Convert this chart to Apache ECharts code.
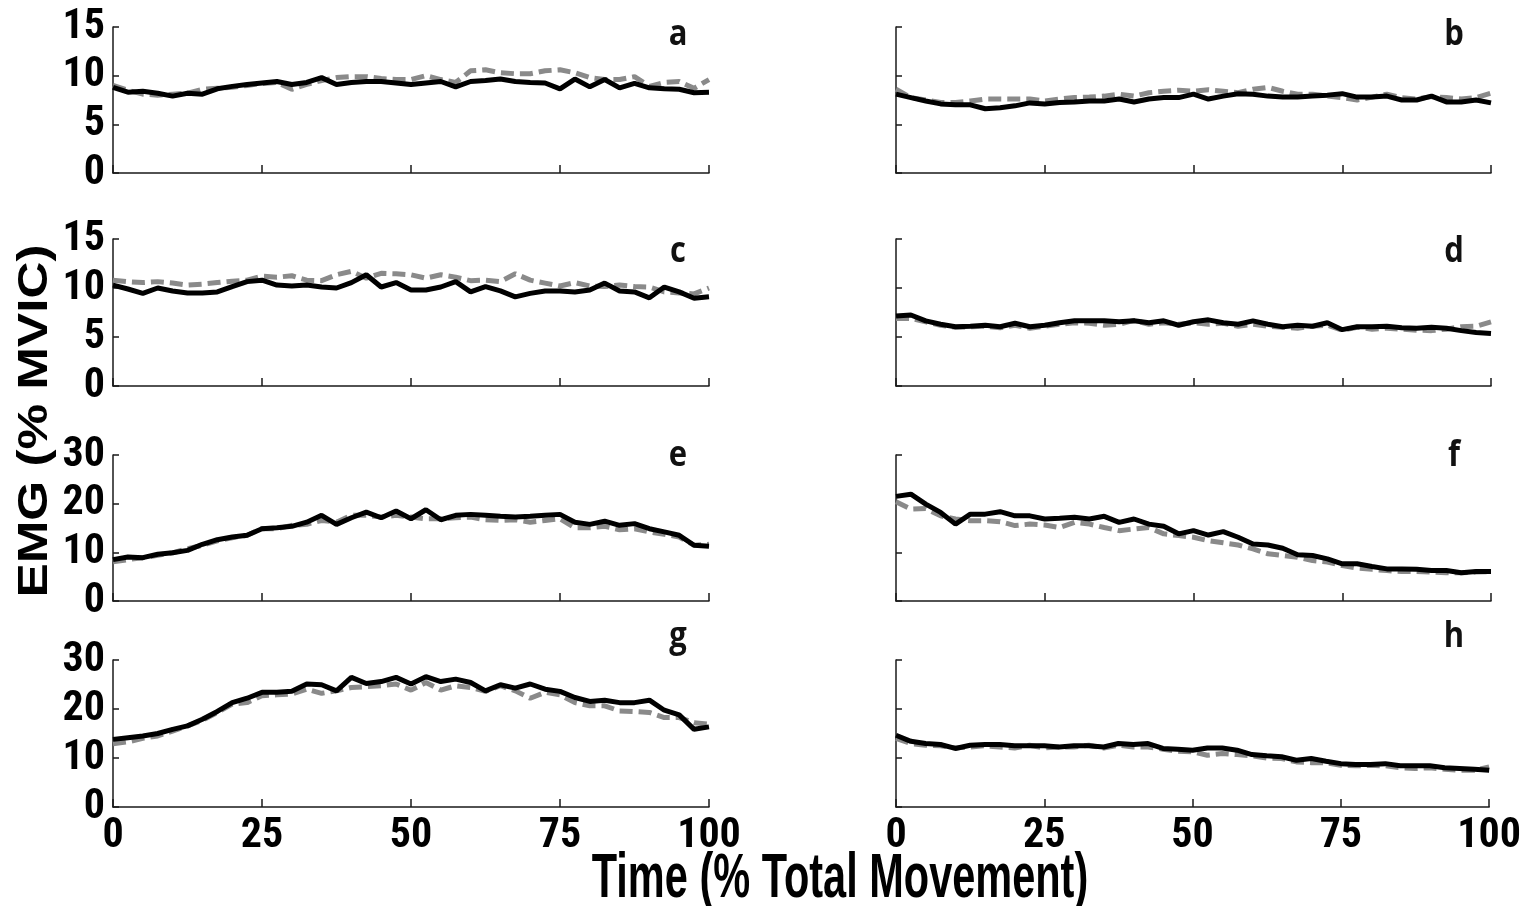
<!DOCTYPE html>
<html>
<head>
<meta charset="utf-8">
<script src="https://cdn.jsdelivr.net/npm/echarts@6/dist/echarts.min.js"></script>
<style>
html,body{margin:0;padding:0;background:#fff;}
#chart{width:1524px;height:906px;}
</style>
</head>
<body>
<div id="chart"></div>
<script>
// ---- data ----
const time = [0,2.5,5,7.5,10,12.5,15,17.5,20,22.5,25,27.5,30,32.5,35,37.5,40,42.5,45,47.5,50,52.5,55,57.5,60,62.5,65,67.5,70,72.5,75,77.5,80,82.5,85,87.5,90,92.5,95,97.5,100];
const xTicks = [0,25,50,75,100];
const yTicksLow = [0,5,10,15];
const yTicksHigh = [0,10,20,30];
const panelLetters = ['a','b','c','d','e','f','g','h'];

const aSolid  = [8.8,8.3,8.4,8.2,7.9,8.2,8.1,8.65,8.9,9.1,9.25,9.4,9.1,9.3,9.8,9.1,9.3,9.4,9.4,9.25,9.1,9.25,9.4,8.85,9.4,9.5,9.65,9.4,9.3,9.25,8.65,9.65,8.85,9.6,8.75,9.2,8.75,8.65,8.6,8.25,8.3];
const aDashed = [9.0,8.5,8.1,8.0,8.1,8.2,8.6,8.7,8.8,9.0,9.2,9.3,8.6,9.1,9.5,9.8,9.9,9.9,9.7,9.6,9.6,10.0,9.6,9.3,10.5,10.6,10.3,10.2,10.2,10.5,10.6,10.3,9.8,9.6,9.6,9.9,8.9,9.3,9.4,8.7,9.6];
const bSolid  = [8.1,7.75,7.4,7.1,7.0,7.0,6.6,6.7,6.9,7.2,7.1,7.25,7.3,7.4,7.4,7.6,7.3,7.6,7.75,7.75,8.1,7.6,7.9,8.15,8.1,7.9,7.8,7.8,7.9,8.0,8.15,7.8,7.8,7.9,7.5,7.5,7.9,7.3,7.3,7.5,7.2];
const bDashed = [8.6,7.75,7.5,7.25,7.25,7.4,7.6,7.6,7.6,7.6,7.4,7.6,7.75,7.8,7.9,8.1,7.9,8.25,8.4,8.5,8.4,8.55,8.4,8.25,8.6,8.8,8.4,8.1,8.1,7.9,7.75,7.5,7.8,8.1,7.75,7.6,7.85,7.75,7.6,7.75,8.2];
const cSolid  = [10.3,9.9,9.45,10.0,9.7,9.5,9.5,9.6,10.15,10.65,10.8,10.3,10.2,10.3,10.1,10.0,10.55,11.35,10.1,10.55,9.8,9.8,10.1,10.65,9.6,10.15,9.7,9.1,9.45,9.7,9.7,9.6,9.8,10.5,9.7,9.6,9.0,10.1,9.6,8.95,9.1];
const cDashed = [10.8,10.65,10.55,10.65,10.5,10.3,10.4,10.55,10.7,10.8,11.2,11.1,11.25,10.8,10.75,11.35,11.7,11.0,11.5,11.45,11.35,11.0,11.35,11.1,10.75,10.8,10.65,11.45,10.8,10.5,10.2,10.55,10.2,10.15,10.3,10.15,10.1,9.6,9.5,9.4,10.0];
const dSolid  = [7.15,7.25,6.65,6.3,6.05,6.1,6.2,6.05,6.4,6.05,6.2,6.45,6.65,6.65,6.65,6.55,6.65,6.45,6.65,6.2,6.55,6.75,6.45,6.3,6.65,6.3,6.05,6.2,6.1,6.45,5.75,6.05,6.05,6.1,5.95,5.9,6.0,5.9,5.65,5.45,5.35];
const dDashed = [6.9,6.9,6.55,6.2,6.0,6.05,6.1,5.95,6.2,5.9,6.1,6.3,6.45,6.4,6.2,6.3,6.7,6.3,6.45,6.3,6.45,6.3,6.4,6.1,6.3,6.1,6.0,5.9,6.1,6.2,5.7,6.0,5.8,5.9,5.8,5.7,5.65,5.8,6.05,6.1,6.55];
const eSolid  = [8.5,9.05,8.9,9.6,9.9,10.4,11.65,12.6,13.15,13.5,14.85,15.05,15.35,16.2,17.6,15.75,17.1,18.25,17.1,18.5,16.9,18.75,16.7,17.6,17.8,17.6,17.4,17.25,17.4,17.6,17.8,16.2,15.75,16.4,15.55,15.9,14.85,14.2,13.5,11.45,11.25];
const eDashed = [8.05,8.5,8.9,9.4,9.9,10.75,11.45,12.35,13.0,13.5,14.9,14.85,15.55,15.75,16.55,16.2,17.6,17.6,17.25,17.6,17.25,16.9,16.9,17.1,17.25,16.7,16.55,16.7,16.2,16.55,16.9,15.05,15.05,15.35,14.65,14.85,14.2,13.7,13.15,11.45,11.65];
const fSolid  = [21.5,21.95,19.9,18.2,15.8,17.85,17.85,18.35,17.5,17.5,16.85,17.0,17.2,16.85,17.4,16.15,16.85,15.8,15.35,13.8,14.45,13.55,14.25,13.1,11.7,11.5,10.85,9.5,9.35,8.65,7.65,7.65,7.1,6.6,6.6,6.5,6.25,6.25,5.8,6.05,6.05];
const fDashed = [20.4,18.9,19.0,17.5,16.85,16.5,16.5,16.3,15.5,15.8,15.6,15.1,16.15,15.8,15.1,14.45,14.8,15.1,13.8,13.45,13.1,12.4,11.95,11.5,10.7,9.7,9.35,9.0,8.3,8.0,7.3,6.75,6.5,6.25,6.05,6.05,5.95,5.8,5.8,5.95,6.05];
const gSolid  = [13.8,14.15,14.5,15.0,15.85,16.55,17.9,19.5,21.3,22.2,23.4,23.4,23.6,25.1,24.95,23.7,26.45,25.2,25.6,26.45,25.1,26.6,25.6,26.1,25.4,23.7,24.95,24.25,25.1,24.05,23.6,22.35,21.55,21.8,21.3,21.3,21.8,19.75,18.8,15.85,16.35];
const gDashed = [12.9,13.3,14.0,14.5,15.5,16.55,17.7,19.3,21.0,21.3,22.7,22.9,23.05,24.05,23.2,23.7,24.4,24.55,24.75,25.1,23.85,25.4,23.85,24.75,24.4,23.6,24.75,23.7,22.2,23.4,22.9,21.3,20.65,20.65,19.6,19.5,19.3,18.25,18.25,17.2,16.9];
const hSolid  = [14.65,13.4,12.95,12.75,11.95,12.6,12.75,12.75,12.5,12.5,12.5,12.25,12.5,12.5,12.25,12.95,12.75,12.95,11.95,11.8,11.6,12.05,12.05,11.6,10.7,10.45,10.25,9.55,9.9,9.35,8.85,8.65,8.65,8.85,8.4,8.4,8.4,8.0,7.85,7.7,7.5];
const hDashed = [14.0,12.95,12.6,12.5,12.05,12.25,12.5,12.25,12.05,12.6,12.05,12.25,12.25,12.6,12.05,12.6,12.25,12.25,11.8,11.4,11.25,10.55,10.9,10.7,10.45,10.0,9.9,9.2,9.05,9.05,8.5,8.4,8.5,8.4,8.0,7.85,8.0,7.7,7.5,7.5,8.2];

const solidSets  = [aSolid,bSolid,cSolid,dSolid,eSolid,fSolid,gSolid,hSolid];
const dashedSets = [aDashed,bDashed,cDashed,dDashed,eDashed,fDashed,gDashed,hDashed];

// ---- layout ----
const colLeft = [113, 896];
const colWidth = [596, 595];
const rowTop = [27, 239, 455, 660];
const rowHeight = [146, 147, 146, 147];
const letterY = [35, 252, 456, 637];
const letterX = [678, 1454];

const tickFont = "'Liberation Sans Narrow','Arial Narrow','Roboto Condensed',sans-serif";
const axisColor = '#1a1a1a';

const grid = [], xAxis = [], yAxis = [], series = [], graphic = [];
for (let i = 0; i < 8; i++) {
  const row = Math.floor(i / 2), col = i % 2;
  grid.push({left: colLeft[col], top: rowTop[row], width: colWidth[col], height: rowHeight[row], containLabel: false});
  xAxis.push({
    type: 'value', gridIndex: i, min: xTicks[0], max: xTicks[xTicks.length-1], interval: xTicks[1]-xTicks[0],
    axisLine: {show: true, onZero: false, lineStyle: {color: axisColor, width: 1.5}},
    axisTick: {show: true, inside: true, length: 8, lineStyle: {color: axisColor, width: 1.5}},
    splitLine: {show: false},
    axisLabel: {show: row === 3, color: '#000', fontFamily: tickFont, fontWeight: 'bold', fontSize: 42, margin: 8}
  });
  const yt = row < 2 ? yTicksLow : yTicksHigh;
  yAxis.push({
    type: 'value', gridIndex: i, min: yt[0], max: yt[yt.length-1], interval: yt[1]-yt[0],
    axisLine: {show: true, onZero: false, lineStyle: {color: axisColor, width: 1.5}},
    axisTick: {show: true, inside: true, length: 6, lineStyle: {color: axisColor, width: 1.5}},
    splitLine: {show: false},
    axisLabel: {show: col === 0, color: '#000', fontFamily: tickFont, fontWeight: 'bold', fontSize: 42, margin: 8}
  });
  series.push({
    type: 'line', xAxisIndex: i, yAxisIndex: i, showSymbol: false, symbol: 'none', z: 2,
    data: time.map((t, k) => [t, dashedSets[i][k]]),
    lineStyle: {color: '#8a8a8a', width: 5, type: [13, 6]}
  });
  series.push({
    type: 'line', xAxisIndex: i, yAxisIndex: i, showSymbol: false, symbol: 'none', z: 3,
    data: time.map((t, k) => [t, solidSets[i][k]]),
    lineStyle: {color: '#000', width: 5}
  });
  graphic.push({
    type: 'text', x: letterX[col], y: letterY[row], scaleY: 1.15,
    style: {text: panelLetters[i], font: "bold 31px 'Open Sans', sans-serif", fill: '#111', align: 'center', verticalAlign: 'middle'}
  });
}
graphic.push({
  type: 'text', x: 35, y: 421, rotation: Math.PI / 2, scaleX: 1.22,
  style: {text: 'EMG (% MVIC)', font: "bold 42px 'Liberation Sans', Arial, sans-serif", fill: '#000', align: 'center', verticalAlign: 'middle'}
});
graphic.push({
  type: 'text', x: 840, y: 880, scaleX: 0.83, scaleY: 1.257,
  style: {text: 'Time (% Total Movement)', font: "bold 50px 'Liberation Sans', Arial, sans-serif", fill: '#000', align: 'center', verticalAlign: 'middle'}
});

const chart = echarts.init(document.getElementById('chart'), null, {renderer: 'canvas'});
chart.setOption({animation: false, backgroundColor: '#fff', grid, xAxis, yAxis, series, graphic});
</script>
</body>
</html>
